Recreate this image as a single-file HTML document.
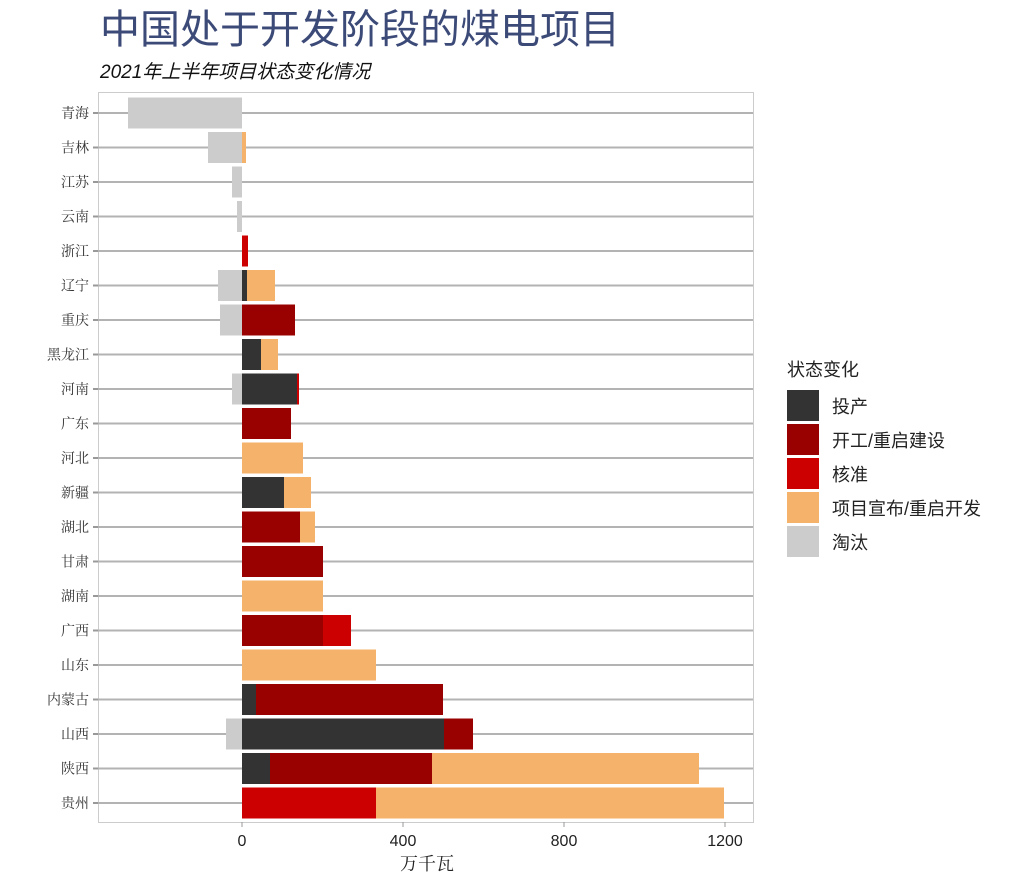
<!DOCTYPE html>
<html><head><meta charset="utf-8"><style>body{margin:0;background:#fff}svg{display:block}</style></head><body>
<svg width="1024" height="886" xmlns="http://www.w3.org/2000/svg" font-family="'Liberation Sans','Noto Sans CJK SC',sans-serif">
<text x="100" y="43" font-size="40" fill="#3c4a78" font-family="'Liberation Sans','Noto Sans CJK SC',sans-serif">中国处于开发阶段的煤电项目</text>
<text x="100" y="78" font-size="19" font-style="italic" fill="#111">2021年上半年项目状态变化情况</text>
<rect x="98.5" y="92.5" width="655" height="730" fill="none" stroke="#ccc"/>
<g stroke="#b3b3b3" stroke-width="2" id="grid"></g>
<g id="bars"></g>
<g id="labels" font-size="14" fill="#333" text-anchor="end" font-family="'Liberation Serif','Noto Serif CJK SC',serif"></g>
<g font-size="16" fill="#222" text-anchor="middle">
<line x1="242" y1="822" x2="242" y2="827" stroke="#999"/><line x1="403" y1="822" x2="403" y2="827" stroke="#999"/><line x1="564" y1="822" x2="564" y2="827" stroke="#999"/><line x1="725" y1="822" x2="725" y2="827" stroke="#999"/>
<text x="242" y="846">0</text><text x="403" y="846">400</text><text x="564" y="846">800</text><text x="725" y="846">1200</text>
<text x="427" y="870" font-size="18" font-family="'Liberation Serif','Noto Serif CJK SC',serif">万千瓦</text>
</g>
<g font-size="18" fill="#222">
<text x="787" y="376">状态变化</text>
<rect x="787" y="390" width="32" height="31" fill="#333333"/><text x="832" y="413">投产</text>
<rect x="787" y="424" width="32" height="31" fill="#990000"/><text x="832" y="447">开工/重启建设</text>
<rect x="787" y="458" width="32" height="31" fill="#cc0000"/><text x="832" y="481">核准</text>
<rect x="787" y="492" width="32" height="31" fill="#f5b26b"/><text x="832" y="515">项目宣布/重启开发</text>
<rect x="787" y="526" width="32" height="31" fill="#cccccc"/><text x="832" y="549">淘汰</text>
</g>
<script>
var C={d:'#333333',r:'#990000',k:'#cc0000',o:'#f5b26b',g:'#cccccc'};
var rows=[["青海",[["g",128,242]]],["吉林",[["g",208,242],["o",242,246]]],["江苏",[["g",232,242]]],["云南",[["g",237,242]]],["浙江",[["k",242,248]]],["辽宁",[["g",218,242],["d",242,247],["o",247,275]]],["重庆",[["g",220,242],["r",242,295]]],["黑龙江",[["d",242,261],["o",261,278]]],["河南",[["g",232,242],["d",242,297],["k",297,299]]],["广东",[["r",242,291]]],["河北",[["o",242,303]]],["新疆",[["d",242,284],["o",284,311]]],["湖北",[["r",242,300],["o",300,315]]],["甘肃",[["r",242,323]]],["湖南",[["o",242,323]]],["广西",[["r",242,323],["k",323,351]]],["山东",[["o",242,376]]],["内蒙古",[["d",242,256],["r",256,443]]],["山西",[["g",226,242],["d",242,444],["r",444,473]]],["陕西",[["d",242,270],["r",270,432],["o",432,699]]],["贵州",[["k",242,376],["o",376,724]]]];
var ns="http://www.w3.org/2000/svg",g=document.getElementById('grid'),b=document.getElementById('bars'),l=document.getElementById('labels');
rows.forEach(function(r,i){var y=113+i*34.5;
var ln=document.createElementNS(ns,'line');ln.setAttribute('x1',98);ln.setAttribute('x2',753);ln.setAttribute('y1',y);ln.setAttribute('y2',y);g.appendChild(ln);
var tk=document.createElementNS(ns,'line');tk.setAttribute('x1',93);tk.setAttribute('x2',98);tk.setAttribute('y1',y);tk.setAttribute('y2',y);tk.setAttribute('stroke','#999');g.appendChild(tk);
var t=document.createElementNS(ns,'text');t.setAttribute('x',89);t.setAttribute('y',y+5);t.textContent=r[0];l.appendChild(t);
r[1].forEach(function(s){var re=document.createElementNS(ns,'rect');re.setAttribute('x',s[1]);re.setAttribute('width',s[2]-s[1]);re.setAttribute('y',y-15.5);re.setAttribute('height',31);re.setAttribute('fill',C[s[0]]);b.appendChild(re);});});
</script>
</svg>
</body></html>
